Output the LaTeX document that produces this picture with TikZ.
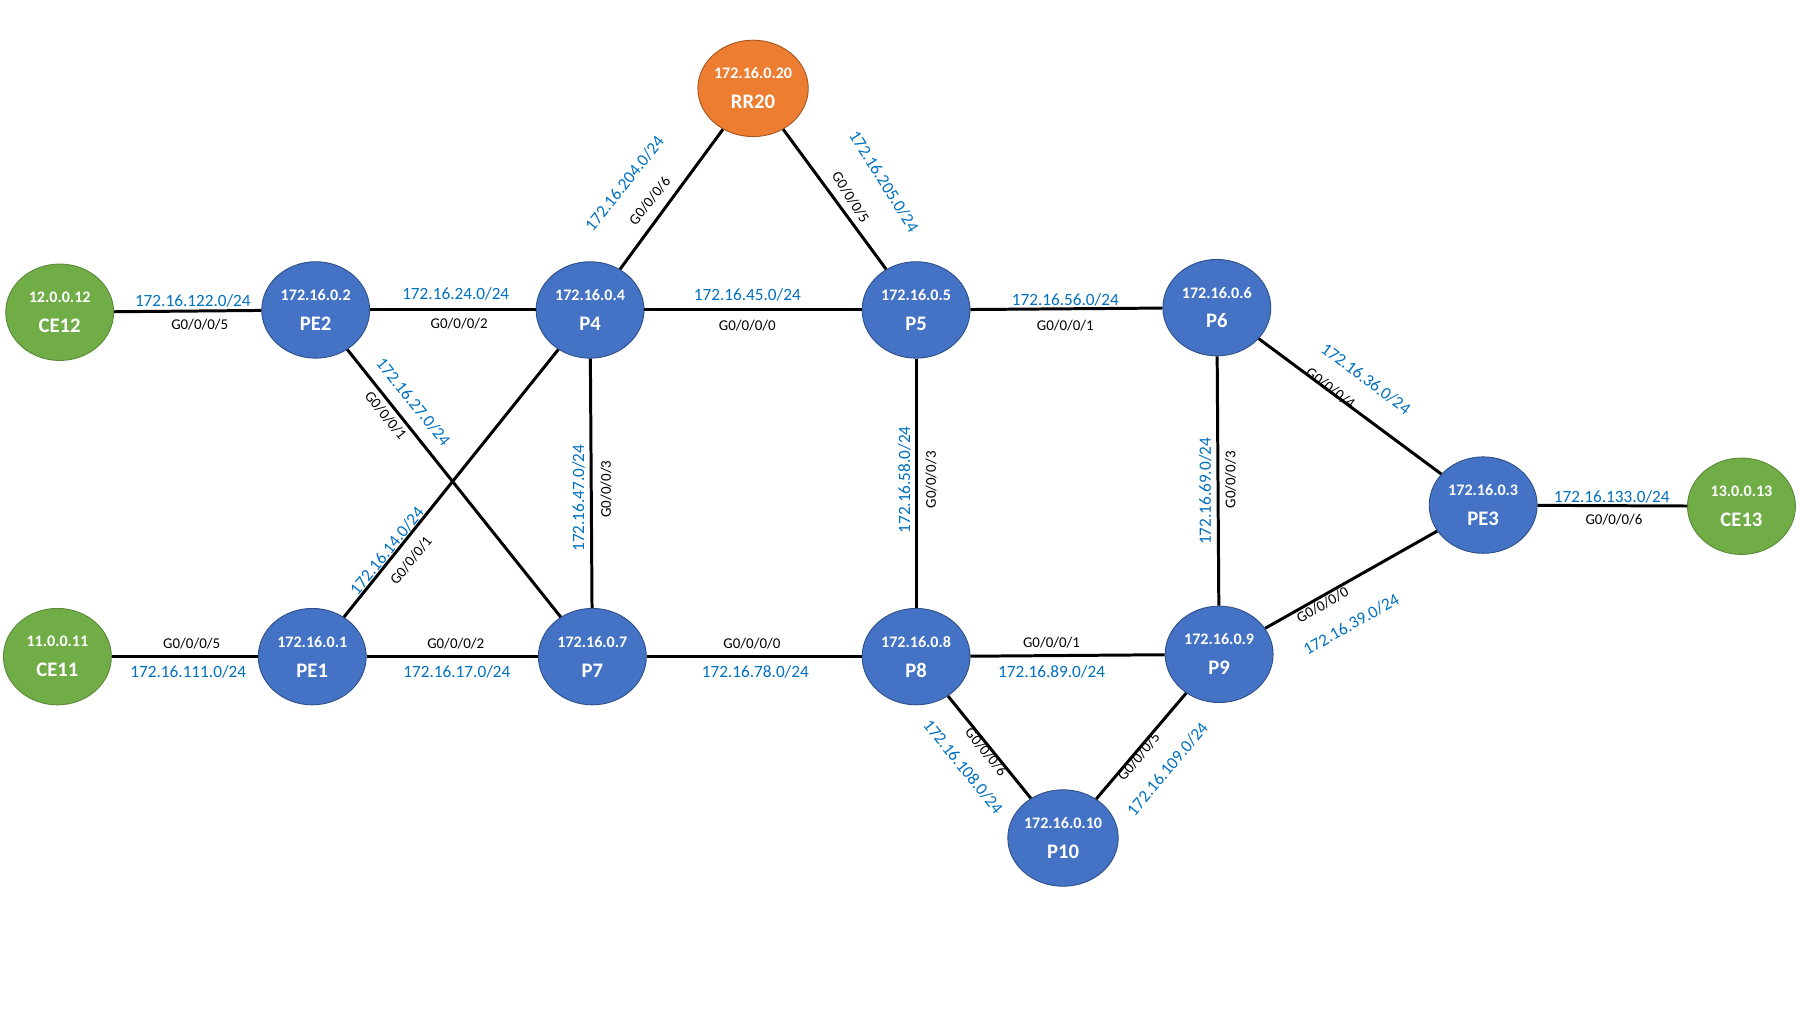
\documentclass[tikz,border=0pt]{standalone}
\usepackage{fontspec}
\setmainfont{Carlito}
\definecolor{nb}{HTML}{4472C4}
\definecolor{ng}{HTML}{70AD47}
\definecolor{no}{HTML}{ED7D31}
\definecolor{lb}{HTML}{0070C0}
\begin{document}
\begin{tikzpicture}[x=1pt,y=-1pt,
 rt/.style={ellipse,minimum width=94pt,minimum height=84pt,draw=nb!70!black,line width=0.8pt,text=white,align=center,inner sep=0pt,font=\bfseries\fontsize{14}{26}\selectfont},
 blu/.style={rt,fill=nb},
 grn/.style={rt,fill=ng,draw=ng!80!black},
 org/.style={rt,fill=no,draw=no!70!black},
 ln/.style={line width=2.6pt},
 ip/.style={text=lb,font=\fontsize{15}{15}\selectfont,inner sep=0pt},
 gi/.style={text=black,font=\fontsize{13}{13}\selectfont,inner sep=0pt}]
\usetikzlibrary{shapes.geometric}
\useasboundingbox (0,0) rectangle (1568,882);
\newcommand{\nm}[2]{#1\\{\fontsize{18}{18}\selectfont #2}}
\node[grn] (CE12) at (52,272) {\nm{12.0.0.12}{CE12}};
\node[grn] (CE11) at (50,572) {\nm{11.0.0.11}{CE11}};
\node[blu] (PE2) at (275,270) {\nm{172.16.0.2}{PE2}};
\node[blu] (PE1) at (272,572) {\nm{172.16.0.1}{PE1}};
\node[blu] (P4) at (514,270) {\nm{172.16.0.4}{P4}};
\node[blu] (P7) at (516,572) {\nm{172.16.0.7}{P7}};
\node[org] (RR20) at (656,77) {\nm{172.16.0.20}{RR20}};
\node[blu] (P5) at (798,270) {\nm{172.16.0.5}{P5}};
\node[blu] (P8) at (798,572) {\nm{172.16.0.8}{P8}};
\node[blu] (P6) at (1060,268) {\nm{172.16.0.6}{P6}};
\node[blu] (P9) at (1062,570) {\nm{172.16.0.9}{P9}};
\node[blu] (P10) at (926,730) {\nm{172.16.0.10}{P10}};
\node[blu] (PE3) at (1292,440) {\nm{172.16.0.3}{PE3}};
\node[grn] (CE13) at (1517,441) {\nm{13.0.0.13}{CE13}};
\foreach \a/\b in {CE12/PE2,PE2/P4,P4/P5,P5/P6,CE11/PE1,PE1/P7,P7/P8,P8/P9,PE3/CE13,P4/P7,P5/P8,P6/P9,PE2/P7,PE1/P4,P4/RR20,RR20/P5,P6/PE3,P9/PE3,P8/P10,P10/P9}
  \draw[ln] (\a) -- (\b);
\node[ip] (l1) at (168,262) {172.16.122.0/24};
\node[gi] (g1) at (174,283) {G0/0/0/5};
\node[ip] (l2) at (397,256) {172.16.24.0/24};
\node[gi] (g2) at (400,282) {G0/0/0/2};
\node[ip] (l3) at (651,257) {172.16.45.0/24};
\node[gi] (g3) at (651,284) {G0/0/0/0};
\node[ip] (l4) at (928,261) {172.16.56.0/24};
\node[gi] (g4) at (928,284) {G0/0/0/1};
\node[gi] (g5) at (167,561) {G0/0/0/5};
\node[ip] (l5) at (164,585) {172.16.111.0/24};
\node[gi] (g6) at (397,561) {G0/0/0/2};
\node[ip] (l6) at (398,585) {172.16.17.0/24};
\node[gi] (g7) at (655,561) {G0/0/0/0};
\node[ip] (l7) at (658,585) {172.16.78.0/24};
\node[gi] (g8) at (916,560) {G0/0/0/1};
\node[ip] (l8) at (916,585) {172.16.89.0/24};
\node[ip] (l9) at (1404,433) {172.16.133.0/24};
\node[gi] (g9) at (1406,453) {G0/0/0/6};
\node[ip,rotate=90] (l10) at (504,434) {172.16.47.0/24};
\node[gi,rotate=90] (g10) at (528,426) {G0/0/0/3};
\node[ip,rotate=90] (l11) at (788,418) {172.16.58.0/24};
\node[gi,rotate=90] (g11) at (811,418) {G0/0/0/3};
\node[ip,rotate=90] (l12) at (1050,428) {172.16.69.0/24};
\node[gi,rotate=90] (g12) at (1072,418) {G0/0/0/3};
\node[ip,rotate=-51] (l13) at (360,350) {172.16.27.0/24};
\node[gi,rotate=-51] (g13) at (336,362) {G0/0/0/1};
\node[ip,rotate=51] (l14) at (337,480) {172.16.14.0/24};
\node[gi,rotate=51] (g14) at (358,488) {G0/0/0/1};
\node[ip,rotate=51.5] (l15) at (544,160) {172.16.204.0/24};
\node[gi,rotate=51.5] (g15) at (566,175) {G0/0/0/6};
\node[ip,rotate=-58] (l16) at (770,158) {172.16.205.0/24};
\node[gi,rotate=-58] (g16) at (741,172) {G0/0/0/5};
\node[ip,rotate=-37] (l17) at (1190,330) {172.16.36.0/24};
\node[gi,rotate=-37] (g17) at (1159,338) {G0/0/0/4};
\node[gi,rotate=29.5] (g18) at (1152,527) {G0/0/0/0};
\node[ip,rotate=29.5] (l18) at (1177,544) {172.16.39.0/24};
\node[gi,rotate=-51] (g19) at (859,655) {G0/0/0/6};
\node[ip,rotate=-51] (l19) at (839,668) {172.16.108.0/24};
\node[gi,rotate=50] (g20) at (992,659) {G0/0/0/5};
\node[ip,rotate=50] (l20) at (1017,670) {172.16.109.0/24};
\end{tikzpicture}
\end{document}
